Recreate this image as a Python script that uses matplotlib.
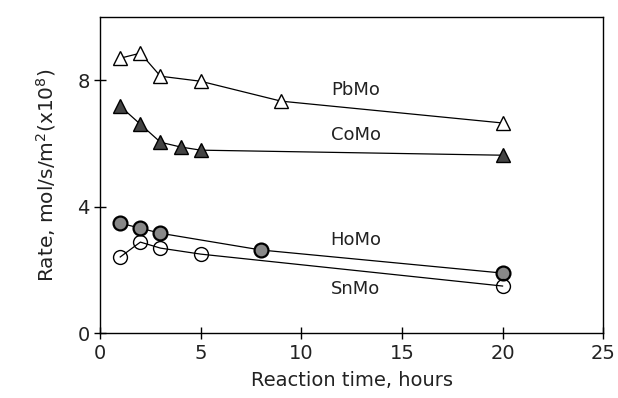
import matplotlib
matplotlib.use("Agg")
import matplotlib.pyplot as plt

pb_t = [1, 2, 3, 5, 9, 20]
pb_r = [8.70, 8.86, 8.13, 7.97, 7.34, 6.65]
co_t = [1, 2, 3, 4, 5, 20]
co_r = [7.18, 6.61, 6.04, 5.89, 5.79, 5.63]
ho_t = [1, 2, 3, 8, 20]
ho_r = [3.48, 3.32, 3.16, 2.63, 1.90]
sn_t = [1, 2, 3, 5, 20]
sn_r = [2.41, 2.88, 2.69, 2.50, 1.49]

xticks = [0, 5, 10, 15, 20, 25]
yticks = [0, 4, 8]

plt.rcParams['font.family'] = ['DejaVu Sans']
fig = plt.figure(figsize=(6.18, 3.98), dpi=100)
ax = fig.add_axes([0.162, 0.163, 0.814, 0.794])

ms = 10
ax.plot(pb_t, pb_r, color='black', lw=0.9, marker='^', ms=ms, mfc='white', mec='black', mew=1.0)
ax.plot(co_t, co_r, color='black', lw=0.9, marker='^', ms=ms, mfc='#444444', mec='black', mew=1.0)
ax.plot(ho_t, ho_r, color='black', lw=0.9, marker='o', ms=ms, mfc='#888888', mec='black', mew=1.6)
ax.plot(sn_t, sn_r, color='black', lw=0.9, marker='o', ms=ms, mfc='none', mec='black', mew=1.0)

fs = 13
ax.text(12.7, 7.69, 'PbMo', ha='center', va='center', fontsize=fs, color='#222222')
ax.text(12.7, 6.27, 'CoMo', ha='center', va='center', fontsize=fs, color='#222222')
ax.text(12.7, 2.94, 'HoMo', ha='center', va='center', fontsize=fs, color='#222222')
ax.text(12.7, 1.39, 'SnMo', ha='center', va='center', fontsize=fs, color='#222222')

ax.set_xlim(0, 25)
ax.set_ylim(0, 10)
ax.set_xticks(xticks)
ax.set_yticks(yticks)
ax.tick_params(direction='inout', length=8, width=1, labelsize=14, color='black',
               labelcolor='#222222')
for s in ax.spines.values():
    s.set_linewidth(1.0)
ax.set_xlabel('Reaction time, hours', fontsize=14, labelpad=6, color='#222222')
ax.set_ylabel('Rate, mol/s/m$^2$(x10$^8$)', fontsize=14.5, labelpad=14, color='#222222')

fig.savefig('out.png', dpi=100)
